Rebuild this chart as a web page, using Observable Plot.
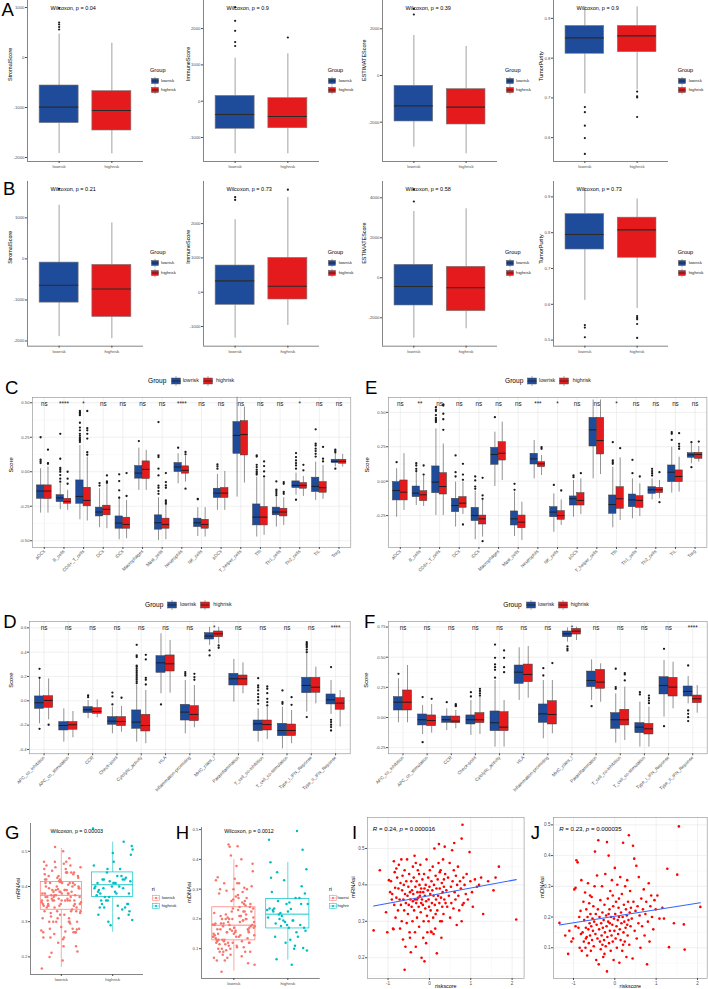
<!DOCTYPE html>
<html>
<head>
<meta charset="utf-8">
<script src="https://cdn.jsdelivr.net/npm/d3@7"></script>
<script src="https://cdn.jsdelivr.net/npm/@observablehq/plot@0.6"></script>
<style>
html,body{margin:0;padding:0;background:#fff;}
#fig{position:relative;width:708px;height:989px;overflow:hidden;background:#fff;font-family:"Liberation Sans",Arial,Helvetica,sans-serif;color:#000;}
#fig svg{display:block;max-width:none !important;}
</style>
</head>
<body>
<div id="fig"></div>
<script>
// ======================= DATA =======================
const groups = ["lowrisk", "highrisk"];

// ---- A / B : ESTIMATE scores (box statistics) ----
const estMeasures = ["StromalScore", "ImmuneScore", "ESTIMATEScore", "TumorPurity"];
const aPval = ["0.04", "0.9", "0.39", "0.9"];
const aLo  = [[-1920, -1927], [-1450, -1450], [-3071, -3357], [0.710, 0.720]];
const aQ1  = [[-1313, -1460], [-760, -744], [-1971, -2100], [0.811, 0.815]];
const aMed = [[-993, -1060], [-366, -420], [-1300, -1357], [0.851, 0.856]];
const aQ3  = [[-560, -673], [146, 83], [-443, -586], [0.881, 0.881]];
const aHi  = [[470, 287], [1184, 1305], [1714, 1243], [0.929, 0.929]];
const aOut = [
  [[560, 610, 660, 700, 990], []],
  [[1520, 1630, 1940, 2215, 2590], [1755]],
  [[2614, 2857], []],
  [[0.677, 0.664, 0.630, 0.599, 0.559], [0.716, 0.704, 0.701, 0.652]]
];
const aTicks = [[-2000, -1000, 0, 1000], [-1000, 0, 1000, 2000], [-2000, 0, 2000], [0.6, 0.7, 0.8, 0.9]];

const bPval = ["0.21", "0.73", "0.58", "0.73"];
const bLo  = [[-1895, -1944], [-1340, -971], [-3020, -2550], [0.611, 0.588]];
const bQ1  = [[-1066, -1415], [-369, -213], [-1385, -1670], [0.753, 0.730]];
const bMed = [[-643, -732], [330, 175], [-435, -500], [0.795, 0.808]];
const bQ3  = [[-90, -146], [777, 1000], [650, 550], [0.852, 0.842]];
const bHi  = [[1307, 878], [2110, 2760], [3315, 3450], [0.924, 0.894]];
const bOut = [
  [[1707], []],
  [[2690, 2770], [2990]],
  [[3815, 4420], []],
  [[0.542, 0.535, 0.508], [0.567, 0.562, 0.558, 0.545, 0.506]]
];
const bTicks = [[-2000, -1000, 0, 1000], [-1000, 0, 1000, 2000], [-2000, 0, 2000, 4000], [0.5, 0.6, 0.7, 0.8, 0.9]];

// ---- C / E : immune cells ----
const immCells = ["aDCs", "B_cells", "CD8+_T_cells", "DCs", "iDCs", "Macrophages", "Mast_cells", "Neutrophils", "NK_cells", "pDCs", "T_helper_cells", "Tfh", "Th1_cells", "Th2_cells", "TIL", "Treg"];
const cSig = ["ns", "****", "*", "ns", "ns", "ns", "ns", "****", "ns", "ns", "ns", "ns", "ns", "*", "ns", "ns"];
const cLo  = [[-0.30,-0.30],[-0.275,-0.28],[-0.348,-0.357],[-0.406,-0.413],[-0.493,-0.486],[-0.135,-0.135],[-0.498,-0.493],[-0.087,-0.075],[-0.469,-0.473],[-0.28,-0.28],[-0.184,-0.082],[-0.473,-0.461],[-0.401,-0.389],[-0.17,-0.179],[-0.208,-0.2],[0.034,0.034]];
const cQ1  = [[-0.196,-0.198],[-0.22,-0.232],[-0.232,-0.251],[-0.324,-0.316],[-0.413,-0.413],[-0.05,-0.053],[-0.42,-0.413],[-0.002,-0.014],[-0.401,-0.413],[-0.19,-0.19],[0.13,0.118],[-0.389,-0.389],[-0.316,-0.324],[-0.118,-0.123],[-0.147,-0.152],[0.063,0.058]];
const cMed = [[-0.14,-0.14],[-0.19,-0.215],[-0.179,-0.208],[-0.292,-0.273],[-0.372,-0.382],[-0.01,0.017],[-0.37,-0.382],[0.034,0.01],[-0.37,-0.382],[-0.155,-0.155],[0.263,0.27],[-0.329,-0.329],[-0.292,-0.292],[-0.099,-0.099],[-0.106,-0.116],[0.075,0.075]];
const cQ3  = [[-0.099,-0.099],[-0.17,-0.196],[-0.063,-0.116],[-0.26,-0.246],[-0.324,-0.333],[0.041,0.075],[-0.316,-0.34],[0.063,0.039],[-0.34,-0.348],[-0.123,-0.118],[0.36,0.367],[-0.237,-0.256],[-0.26,-0.268],[-0.07,-0.082],[-0.043,-0.075],[0.087,0.087]];
const cHi  = [[0.022,0.034],[-0.087,-0.135],[0.19,0.106],[-0.123,-0.087],[-0.184,-0.208],[0.171,0.155],[-0.188,-0.244],[0.13,0.111],[-0.26,-0.26],[-0.019,0.002],[0.54,0.469],[-0.039,-0.05],[-0.147,-0.188],[-0.01,-0.034],[0.07,0.046],[0.13,0.126]];
const cOut = [
  [[0.25,0.087,0.075,0.063],[0.16,0.063,0.058]],
  [[0.275,0.094,0.027,0.014,0.0,-0.024,-0.05,-0.072],[0.0,-0.05,-0.087]],
  [[0.44,0.43,0.42,0.41,0.355,0.32,0.30,0.275,0.26,0.245,0.235,0.225,0.215],[0.44,0.316,0.30,0.275,0.24,0.142,0.123]],
  [[-0.082,-0.1],[-0.027,-0.07,-0.08]],
  [[-0.019,-0.068,-0.135,-0.188],[-0.01,-0.176]],
  [[0.222],[]],
  [[0.36,0.118,0.106,0.022,-0.027,-0.1,-0.116,-0.14,-0.16],[-0.01,-0.075,-0.099,-0.116,-0.208,-0.22,-0.232]],
  [[0.174],[0.143,0.126,-0.123]],
  [[-0.196,-0.2],[]],
  [[0.053,0.039,0.022],[]],
  [[],[]],
  [[0.118,0.11,0.05,0.034,0.015,0.0,-0.01,-0.02],[0.075,0.041,0.002,-0.034]],
  [[-0.07,-0.13,-0.14,-0.155,-0.17],[-0.075,-0.087,-0.147,-0.16]],
  [[0.135,0.106,0.082,0.063,0.046,0.022,-0.203],[0.05,0.01]],
  [[0.307,0.203,0.19,0.167,0.15,0.13,0.11],[0.18,0.094,0.075]],
  [[0.16,0.15,0.14,0.022],[]]
];

const eSig = ["ns", "**", "ns", "ns", "ns", "ns", "ns", "***", "*", "ns", "ns", "*", "ns", "ns", "ns", "ns"];
const eLo  = [[-0.262,-0.213],[-0.177,-0.184],[-0.25,-0.25],[-0.334,-0.242],[-0.426,-0.407],[-0.039,0.005],[-0.402,-0.431],[0.017,0.041],[-0.371,-0.322],[-0.262,-0.242],[0.017,0.048],[-0.339,-0.286],[-0.274,-0.257],[-0.136,-0.128],[-0.087,-0.08],[0.126,0.138]];
const eQ1  = [[-0.14,-0.14],[-0.116,-0.145],[-0.087,-0.097],[-0.225,-0.194],[-0.29,-0.315],[0.119,0.15],[-0.322,-0.342],[0.121,0.102],[-0.262,-0.281],[-0.177,-0.177],[0.252,0.194],[-0.237,-0.201],[-0.189,-0.194],[-0.092,-0.087],[-0.007,-0.007],[0.17,0.162]];
const eMed = [[-0.068,-0.08],[-0.087,-0.099],[-0.007,-0.039],[-0.177,-0.16],[-0.25,-0.274],[0.194,0.203],[-0.274,-0.298],[0.162,0.126],[-0.225,-0.25],[-0.128,-0.14],[0.373,0.295],[-0.17,-0.128],[-0.136,-0.14],[-0.063,-0.063],[0.065,0.034],[0.191,0.194]];
const eQ3  = [[-0.007,0.005],[-0.039,-0.073],[0.107,0.058],[-0.128,-0.116],[-0.194,-0.25],[0.242,0.283],[-0.22,-0.25],[0.199,0.138],[-0.189,-0.218],[-0.111,-0.087],[0.46,0.46],[-0.104,-0.044],[-0.097,-0.109],[-0.044,-0.048],[0.114,0.078],[0.203,0.206]];
const eHi  = [[0.09,0.2],[0.065,0.034],[0.38,0.27],[-0.007,-0.007],[-0.073,-0.14],[0.356,0.429],[-0.08,-0.153],[0.296,0.187],[-0.092,-0.136],[0.005,0.017],[0.59,0.59],[0.102,0.17],[0.017,-0.019],[0.017,0.005],[0.247,0.174],[0.271,0.252]];
const eOut = [
  [[0.138],[]],
  [[0.13,0.114,0.09,0.073],[0.114,0.048]],
  [[0.538,0.52,0.51,0.48,0.46,0.45,0.44,0.43],[0.557,0.55,0.49,0.45,0.373]],
  [[0.187,0.065,0.034],[0.126,0.048,0.01,-0.315]],
  [[0.034,0.005,-0.039,-0.056],[0.024,-0.104,-0.128,-0.436]],
  [[0.465],[]],
  [[-0.019,-0.063],[]],
  [[],[0.247,0.235]],
  [[-0.027],[-0.068]],
  [[0.041,0.029],[0.058]],
  [[],[]],
  [[0.283,0.15,0.138,0.126],[0.24]],
  [[0.155,0.058],[0.034]],
  [[0.09,0.073,0.058,0.041],[0.065,-0.153]],
  [[0.356,0.344,0.3],[0.349,0.271,0.252,0.235]],
  [[0.283,0.102],[0.288]]
];

// ---- D / F : immune functions ----
const funcCells = ["APC_co_inhibition", "APC_co_stimulation", "CCR", "Check-point", "Cytolytic_activity", "HLA", "Inflammation-promoting", "MHC_class_I", "Parainflammation", "T_cell_co-inhibition", "T_cell_co-stimulation", "Type_I_IFN_Reponse", "Type_II_IFN_Reponse"];
const dSig = ["ns", "ns", "ns", "ns", "ns", "ns", "ns", "*", "ns", "ns", "ns", "ns", "****"];
const dLo  = [[-0.189,-0.156],[-0.34,-0.304],[-0.148,-0.14],[-0.271,-0.258],[-0.34,-0.353],[0.058,0.063],[-0.271,-0.222],[0.455,0.468],[-0.011,0.058],[-0.34,-0.318],[-0.395,-0.353],[-0.093,-0.025],[-0.112,-0.216]];
const dQ1  = [[-0.066,-0.058],[-0.244,-0.238],[-0.101,-0.107],[-0.197,-0.208],[-0.23,-0.252],[0.23,0.241],[-0.162,-0.167],[0.504,0.523],[0.126,0.126],[-0.249,-0.244],[-0.29,-0.29],[0.063,0.066],[-0.03,-0.074]];
const dMed = [[-0.016,0.003],[-0.203,-0.197],[-0.074,-0.088],[-0.167,-0.17],[-0.175,-0.203],[0.312,0.304],[-0.093,-0.112],[0.532,0.551],[0.181,0.181],[-0.189,-0.195],[-0.244,-0.244],[0.126,0.112],[0.008,-0.019]];
const dQ3  = [[0.036,0.038],[-0.175,-0.175],[-0.052,-0.06],[-0.134,-0.134],[-0.079,-0.115],[0.367,0.373],[-0.033,-0.044],[0.556,0.57],[0.222,0.208],[-0.162,-0.162],[-0.189,-0.195],[0.189,0.189],[0.052,0.022]];
const dHi  = [[0.18,0.18],[-0.066,-0.088],[0.003,0.008],[-0.052,-0.047],[0.13,0.085],[0.551,0.496],[0.167,0.126],[0.605,0.605],[0.34,0.312],[-0.066,-0.052],[-0.052,-0.079],[0.386,0.277],[0.167,0.085]];
const dOut = [
  [[0.263,0.189,-0.23],[-0.197]],
  [[],[]],
  [[0.044,0.03],[]],
  [[0.068,0.036,-0.03],[0.025]],
  [[0.46,0.373,0.36,0.29,0.28,0.265,0.25,0.235,0.22,0.205,0.19,0.175,0.16,0.145],[0.378,0.34,0.189,0.173,0.134]],
  [[-0.03],[]],
  [[0.236,0.222,0.208],[0.222,0.195,0.173]],
  [[0.414,0.373],[0.455,0.436]],
  [[],[]],
  [[0.186,0.126,0.11,0.085,0.055,0.03,0.003,-0.025],[0.118,0.099,0.063,0.016,-0.011,-0.038]],
  [[0.085,-0.011,-0.025],[0.03,-0.033]],
  [[0.482,0.47,0.46,0.45,0.44,0.42,0.4,-0.134],[]],
  [[0.277,-0.156,-0.175,-0.197,-0.216,-0.244],[]]
];

const fSig = ["ns", "ns", "ns", "ns", "ns", "ns", "ns", "*", "ns", "ns", "ns", "ns", "****"];
const fLo  = [[-0.044,-0.044],[-0.141,-0.13],[-0.108,-0.094],[-0.149,-0.141],[-0.246,-0.246],[0.141,0.16],[-0.177,-0.135],[0.625,0.638],[0.141,0.127],[-0.213,-0.191],[-0.246,-0.246],[0.003,0.072],[0.113,0.036]];
const fQ1  = [[0.058,0.058],[-0.066,-0.072],[-0.044,-0.047],[-0.058,-0.047],[-0.113,-0.113],[0.279,0.293],[-0.044,-0.058],[0.666,0.688],[0.252,0.238],[-0.094,-0.066],[-0.13,-0.141],[0.191,0.174],[0.174,0.119]];
const fMed = [[0.127,0.127],[-0.019,-0.025],[-0.019,-0.03],[-0.019,-0.019],[-0.044,-0.08],[0.376,0.357],[0.03,0.025],[0.694,0.716],[0.307,0.293],[-0.019,-0.019],[-0.08,-0.094],[0.265,0.252],[0.216,0.155]];
const fQ3  = [[0.169,0.224],[0.025,0.017],[0.008,0.008],[0.017,0.036],[0.05,0.044],[0.431,0.439],[0.108,0.135],[0.713,0.735],[0.381,0.395],[0.036,0.064],[-0.047,-0.053],[0.334,0.329],[0.257,0.182]];
const fHi  = [[0.321,0.431],[0.1,0.108],[0.072,0.058],[0.141,0.169],[0.307,0.141],[0.578,0.589],[0.307,0.307],[0.743,0.749],[0.478,0.445],[0.196,0.252],[0.127,0.086],[0.473,0.459],[0.34,0.265]];
const fOut = [
  [[0.362],[]],
  [[0.169,-0.205],[0.155]],
  [[0.127],[0.11,0.1,0.094]],
  [[0.21,0.174],[0.238,0.22,0.2,0.182]],
  [[0.605,0.495,0.44,0.417,0.395,0.33],[0.556,0.495,0.417,0.376]],
  [[],[]],
  [[0.409,0.348],[0.451]],
  [[0.589,0.569,0.556],[]],
  [[0.094],[]],
  [[0.404,0.252,0.238],[0.368,0.357,0.307]],
  [[0.21,0.191],[0.182,0.16,0.14,0.119]],
  [[0.569,-0.072],[]],
  [[0.431,0.058,0.03,0.003,-0.03],[]]
];

// ---- G / H box statistics ----
const gPval = "0.00003", hPval = "0.0012";
const gLo = [0.170, 0.270], gQ1 = [0.334, 0.370], gMed = [0.375, 0.405], gQ3 = [0.413, 0.440], gHi = [0.508, 0.526];
const hLo = [0.024, 0.062], hQ1 = [0.128, 0.168], hMed = [0.179, 0.216], hQ3 = [0.239, 0.267], hHi = [0.399, 0.390];
const riskCutoff = 0.3;

// ---- I : riskscore vs mRNAsi ----
const iR = "0.24", iP = "0.000016";
const iPoints = [
[-1.35,0.275],[-1.2,0.44],[-1.05,0.325],[-1.02,0.27],[-0.98,0.413],[-0.95,0.38],[-0.93,0.41],[-0.9,0.375],[-0.88,0.28],[-0.86,0.465],[-0.85,0.345],[-0.84,0.435],[-0.83,0.392],[-0.82,0.31],[-0.8,0.365],[-0.8,0.445],[-0.87,0.278],[-0.91,0.36],
[-0.78,0.42],[-0.76,0.33],[-0.75,0.39],[-0.74,0.455],[-0.72,0.36],[-0.71,0.28],[-0.7,0.405],[-0.69,0.345],[-0.68,0.47],[-0.67,0.3],[-0.66,0.385],[-0.65,0.425],[-0.64,0.25],[-0.63,0.36],[-0.62,0.4],[-0.61,0.33],[-0.6,0.167],[-0.6,0.44],[-0.59,0.375],[-0.58,0.23],[-0.57,0.35],[-0.56,0.41],[-0.55,0.295],[-0.54,0.47],[-0.53,0.37],[-0.52,0.32],[-0.51,0.395],[-0.5,0.345],[-0.49,0.43],[-0.48,0.27],[-0.47,0.38],[-0.46,0.36],[-0.45,0.215],[-0.44,0.41],[-0.43,0.34],[-0.42,0.385],[-0.41,0.3],[-0.4,0.355],[-0.4,0.45],[-0.47,0.255],
[-0.39,0.375],[-0.38,0.42],[-0.37,0.33],[-0.36,0.48],[-0.35,0.36],[-0.34,0.395],[-0.33,0.23],[-0.32,0.35],[-0.31,0.41],[-0.3,0.31],[-0.29,0.38],[-0.28,0.44],[-0.27,0.365],[-0.26,0.34],[-0.25,0.285],[-0.24,0.4],[-0.23,0.37],[-0.22,0.455],[-0.21,0.325],[-0.2,0.39],[-0.19,0.2],[-0.18,0.36],[-0.17,0.415],[-0.16,0.345],[-0.15,0.38],[-0.14,0.3],[-0.13,0.43],[-0.12,0.19],[-0.11,0.37],[-0.1,0.335],[-0.09,0.4],[-0.08,0.355],[-0.07,0.47],[-0.06,0.315],[-0.05,0.27],[-0.04,0.385],[-0.03,0.42],[-0.02,0.36],[-0.01,0.34],[0.0,0.395],[-0.15,0.255],[-0.25,0.43],[-0.35,0.27],[-0.08,0.24],[-0.2,0.35],[-0.3,0.36],[-0.12,0.39],[-0.02,0.3],[-0.22,0.38],[-0.33,0.46],
[0.01,0.44],[0.02,0.375],[0.03,0.33],[0.04,0.272],[0.05,0.41],[0.06,0.35],[0.07,0.385],[0.08,0.45],[0.09,0.31],[0.1,0.37],[0.11,0.4],[0.12,0.5],[0.13,0.345],[0.14,0.28],[0.15,0.425],[0.16,0.36],[0.17,0.39],[0.18,0.212],[0.19,0.33],[0.2,0.415],[0.21,0.37],[0.22,0.46],[0.23,0.512],[0.24,0.35],[0.25,0.39],[0.26,0.3],[0.27,0.44],[0.28,0.365],[0.29,0.255],[0.3,0.405],[0.31,0.34],[0.32,0.38],[0.33,0.47],[0.34,0.32],[0.35,0.395],[0.36,0.36],[0.37,0.505],[0.38,0.43],[0.39,0.35],[0.05,0.27],[0.15,0.32],[0.25,0.435],[0.3,0.3],[0.1,0.265],[0.35,0.415],
[0.41,0.385],[0.43,0.34],[0.45,0.42],[0.47,0.37],[0.49,0.46],[0.5,0.31],[0.52,0.395],[0.53,0.35],[0.55,0.495],[0.56,0.41],[0.58,0.335],[0.59,0.44],[0.6,0.515],[0.61,0.38],[0.63,0.36],[0.64,0.425],[0.66,0.29],[0.67,0.4],[0.69,0.45],[0.7,0.37],[0.72,0.33],[0.74,0.41],[0.76,0.39],[0.78,0.527],[0.78,0.3],[0.8,0.565],[0.8,0.345],[0.82,0.42],[0.83,0.35],[0.85,0.4],[0.88,0.375],[0.9,0.43],[0.93,0.36],[0.97,0.49],[0.99,0.41],
[1.03,0.38],[1.05,0.34],[1.1,0.415],[1.15,0.395],[1.2,0.4],[1.25,0.42],[1.3,0.32],[1.42,0.41],[1.55,0.385],[1.6,0.42],[1.68,0.45],[2.1,0.305]
];

// ---- J : riskscore vs mDNAsi ----
const jR = "0.23", jP = "0.000035";
const jPoints = [
[-1.34,0.181],[-1.2,0.14],[-1.13,0.08],[-1.1,0.155],[-1.05,0.12],[-1.01,0.13],[-0.98,0.29],[-0.95,0.295],[-0.93,0.385],[-0.9,0.378],[-0.88,0.165],[-0.86,0.2],[-0.85,0.1],[-0.83,0.22],[-0.82,0.145],[-0.81,0.32],[-0.8,0.09],[-0.95,0.17],
[-0.78,0.15],[-0.76,0.25],[-0.75,0.12],[-0.74,0.19],[-0.72,0.28],[-0.71,0.1],[-0.7,0.165],[-0.69,0.225],[-0.68,0.135],[-0.67,0.075],[-0.66,0.2],[-0.65,0.31],[-0.64,0.16],[-0.63,0.115],[-0.62,0.245],[-0.61,0.18],[-0.6,0.14],[-0.59,0.21],[-0.58,0.09],[-0.57,0.17],[-0.56,0.265],[-0.55,0.125],[-0.54,0.195],[-0.53,0.155],[-0.52,0.235],[-0.51,0.105],[-0.5,0.185],[-0.49,0.3],[-0.48,0.413],[-0.47,0.145],[-0.46,0.21],[-0.45,0.06],[-0.44,0.175],[-0.43,0.335],[-0.42,0.13],[-0.41,0.225],[-0.4,0.45],[-0.39,0.046],[-0.6,0.27],[-0.7,0.13],
[-0.38,0.16],[-0.37,0.2],[-0.36,0.12],[-0.35,0.255],[-0.34,0.095],[-0.33,0.18],[-0.32,0.14],[-0.31,0.3],[-0.3,0.215],[-0.29,0.165],[-0.28,0.07],[-0.27,0.19],[-0.26,0.125],[-0.25,0.24],[-0.24,0.15],[-0.23,0.34],[-0.22,0.105],[-0.21,0.205],[-0.2,0.17],[-0.19,0.444],[-0.19,0.023],[-0.18,0.135],[-0.17,0.26],[-0.16,0.185],[-0.15,0.4],[-0.14,0.115],[-0.13,0.225],[-0.12,0.155],[-0.11,0.285],[-0.1,0.09],[-0.09,0.2],[-0.08,0.14],[-0.07,0.32],[-0.06,0.175],[-0.05,0.12],[-0.04,0.235],[-0.03,0.06],[-0.02,0.195],[-0.01,0.155],[0.0,0.36],[-0.3,0.11],[-0.15,0.21],[-0.05,0.27],[-0.25,0.08],[-0.12,0.18],
[0.01,0.21],[0.02,0.13],[0.03,0.25],[0.04,0.17],[0.05,0.1],[0.06,0.305],[0.07,0.19],[0.08,0.145],[0.09,0.23],[0.1,0.2],[0.11,0.051],[0.12,0.16],[0.13,0.33],[0.14,0.125],[0.15,0.215],[0.16,0.18],[0.17,0.275],[0.18,0.09],[0.19,0.2],[0.2,0.442],[0.21,0.15],[0.22,0.24],[0.23,0.185],[0.24,0.12],[0.25,0.3],[0.26,0.165],[0.27,0.225],[0.28,0.07],[0.29,0.205],[0.3,0.32],[0.31,0.14],[0.32,0.25],[0.33,0.19],[0.34,0.466],[0.35,0.11],[0.36,0.215],[0.37,0.285],[0.38,0.17],[0.39,0.23],[0.1,0.26],[0.2,0.11],[0.3,0.175],
[0.41,0.195],[0.43,0.065],[0.44,0.432],[0.45,0.25],[0.47,0.39],[0.48,0.155],[0.5,0.22],[0.52,0.367],[0.53,0.13],[0.55,0.235],[0.57,0.18],[0.58,0.33],[0.6,0.205],[0.62,0.1],[0.64,0.26],[0.66,0.17],[0.68,0.225],[0.7,0.29],[0.72,0.14],[0.74,0.21],[0.76,0.25],[0.78,0.046],[0.8,0.185],[0.82,0.31],[0.84,0.12],[0.86,0.235],[0.88,0.27],[0.9,0.2],[0.93,0.16],[0.96,0.255],[0.99,0.225],
[1.03,0.27],[1.08,0.195],[1.15,0.23],[1.19,0.195],[1.27,0.357],[1.31,0.102],[1.43,0.18],[1.51,0.338],[1.55,0.495],[1.67,0.176],[1.69,0.094],[2.07,0.233]
];

// ======================= RENDER =======================
const fig = document.getElementById("fig");
const FONT = '"Liberation Sans", Arial, Helvetica, sans-serif';
const BLUE = "#1F4B9B", RED = "#E41A1C", SALMON = "#F8766D", TEAL = "#00BFC4";
const boxFill = [BLUE, RED], stripCol = [SALMON, TEAL];
const AX = "#4d4d4d";

function put(node, left, top) {
  const d = document.createElement("div");
  const w = node.getAttribute && node.getAttribute("width");
  d.style.cssText = `position:absolute;left:${left}px;top:${top}px;` + (w ? `width:${w}px;` : "");
  d.appendChild(node);
  fig.appendChild(d);
  return d;
}
function txt(html, x, y, size, extra = "") {
  const d = document.createElement("div");
  d.style.cssText = `position:absolute;left:${x}px;top:${y}px;font-size:${size}px;line-height:1;white-space:nowrap;transform:translateY(-50%);${extra}`;
  d.innerHTML = html;
  fig.appendChild(d);
  return d;
}
function plotAt(f, pad, opts, bg) {
  const svg = Plot.plot({
    width: f.r - f.l + pad[0] + pad[1],
    height: f.b - f.t + pad[2] + pad[3],
    marginLeft: pad[0], marginRight: pad[1], marginTop: pad[2], marginBottom: pad[3],
    style: {background: bg || "transparent", fontFamily: FONT, color: AX, overflow: "visible"},
    ...opts
  });
  put(svg, f.l - pad[0], f.t - pad[2]);
  return svg;
}
function boxKey(fill, w, h) {
  const W = w + 1, H = h + 4, cx = W / 2;
  return `<svg width="${W}" height="${H}" style="display:block"><line x1="${cx}" y1="0" x2="${cx}" y2="${H}" stroke="#777" stroke-width="0.6"/><rect x="0.5" y="2" width="${w}" height="${h}" fill="${fill}" stroke="#555" stroke-width="0.5"/><line x1="0.5" y1="${2 + h / 2}" x2="${w + 0.5}" y2="${2 + h / 2}" stroke="#222" stroke-width="0.8"/></svg>`;
}
function stripKey(col) {
  return `<svg width="8" height="7" style="display:block"><line x1="4" y1="0" x2="4" y2="7" stroke="${col}" stroke-width="0.5"/><rect x="0.5" y="1.2" width="7" height="4.6" fill="#fff" stroke="${col}" stroke-width="0.5"/><line x1="0.5" y1="3.5" x2="7.5" y2="3.5" stroke="${col}" stroke-width="0.5"/><circle cx="4" cy="3.5" r="1.1" fill="${col}"/></svg>`;
}
const fmtHyphen = f => v => d3.format(f)(v).replace("\u2212", "-");

// ---------- A & B ----------
const estFrames = [{l: 27, r: 143}, {l: 203, r: 319}, {l: 381.7, r: 496.7}, {l: 553.3, r: 668.3}];
const estLegendX = [150, 327.7, 505, 677.7];
const estTitleOff = [17, 15.5, 18, 12.6];
const aDomain = [[-2080, 1140], [-1661, 2774], [-3686, 3214], [0.540, 0.945]];
const bDomain = [[-2127, 1885], [-1574, 3227], [-3420, 4815], [0.483, 0.943]];

function estPanel(k, t, b, dom, ticks, lo, q1, med, q3, hi, out, pval, legY) {
  const fr = estFrames[k];
  const f = {l: fr.l, r: fr.r, t, b};
  const rows = groups.map((g, j) => ({j, pos: j + 1, lo: lo[k][j], q1: q1[k][j], med: med[k][j], q3: q3[k][j], hi: hi[k][j]}));
  const outs = groups.flatMap((g, j) => out[k][j].map(v => ({pos: j + 1, v})));
  const hw = 0.37;
  plotAt(f, [28, 4, 2, 12], {
    x: {type: "linear", domain: [0.4, 2.6]},
    y: {type: "linear", domain: dom[k]},
    marks: [
      Plot.ruleX(rows, {x: "pos", y1: "lo", y2: "q1", stroke: "#8a8a8a", strokeWidth: 0.8}),
      Plot.ruleX(rows, {x: "pos", y1: "q3", y2: "hi", stroke: "#8a8a8a", strokeWidth: 0.8}),
      Plot.rect(rows, {x1: d => d.pos - hw, x2: d => d.pos + hw, y1: "q1", y2: "q3", fill: d => boxFill[d.j], stroke: "#7a7a7a", strokeWidth: 0.6}),
      Plot.ruleY(rows, {y: "med", x1: d => d.pos - hw, x2: d => d.pos + hw, stroke: "#2b2b2b", strokeWidth: 1.1}),
      Plot.dot(outs, {x: "pos", y: "v", r: 1.1, fill: "#1a1a1a"}),
      Plot.ruleX([0.4], {stroke: "#333", strokeWidth: 0.6}),
      Plot.ruleY([dom[k][0]], {stroke: "#333", strokeWidth: 0.6}),
      Plot.axisY({ticks: ticks[k], tickSize: 2, tickPadding: 1, fontSize: 4.3, tickFormat: v => String(v), label: null}),
      Plot.axisX({ticks: [1, 2], tickSize: 2, tickPadding: 1.5, fontSize: 4.3, tickFormat: v => groups[v - 1], label: null}),
      Plot.text([`Wilcoxon, p = ${pval[k]}`], {text: d => d, frameAnchor: "top-left", dx: 23, dy: 6, textAnchor: "start", fontSize: 5.5, fill: "#000"}),
      Plot.text([estMeasures[k]], {text: d => d, frameAnchor: "left", dx: -estTitleOff[k], rotate: -90, fontSize: 5.5, fill: "#000"})
    ]
  });
  const lx = estLegendX[k];
  txt("Group", lx, legY, 5.6);
  groups.forEach((g, j) => {
    txt(boxKey(boxFill[j], 7, 5), lx + 0.5, legY + 10 + j * 9.2, 5);
    txt(g, lx + 11, legY + 10 + j * 9.2, 4.3, "color:#1a1a1a");
  });
}
for (let k = 0; k < 4; k++) {
  estPanel(k, 0, 161, aDomain, aTicks, aLo, aQ1, aMed, aQ3, aHi, aOut, aPval, 71);
  estPanel(k, 181, 345.7, bDomain, bTicks, bLo, bQ1, bMed, bQ3, bHi, bOut, bPval, 253.3);
}

// ---------- C, D, E, F ----------
function immPanel(cfg) {
  const {cells, sig, lo, q1, med, q3, hi, out, f, dom, ticks, minor, fmt, titleOff} = cfg;
  const off = 0.1875;
  const rows = [], outs = [];
  cells.forEach((c, i) => groups.forEach((g, j) => {
    const pos = i + 1 + (j === 0 ? -off : off);
    rows.push({j, pos, lo: lo[i][j], q1: q1[i][j], med: med[i][j], q3: q3[i][j], hi: hi[i][j]});
    out[i][j].forEach(v => outs.push({pos, v}));
  }));
  const idx = cells.map((c, i) => i + 1);
  plotAt(f, [30, 2, 4, 52], {
    x: {type: "linear", domain: [0.4, cells.length + 0.6]},
    y: {type: "linear", domain: dom},
    marks: [
      Plot.ruleY(minor, {stroke: "#f2f2f2", strokeWidth: 0.4}),
      Plot.ruleY(ticks, {stroke: "#e6e6e6", strokeWidth: 0.6}),
      Plot.ruleX(idx, {stroke: "#e6e6e6", strokeWidth: 0.6}),
      Plot.ruleX(rows, {x: "pos", y1: "lo", y2: "q1", stroke: "#4a4a4a", strokeWidth: 0.6}),
      Plot.ruleX(rows, {x: "pos", y1: "q3", y2: "hi", stroke: "#4a4a4a", strokeWidth: 0.6}),
      Plot.rect(rows, {x1: d => d.pos - off, x2: d => d.pos + off, y1: "q1", y2: "q3", fill: d => boxFill[d.j], stroke: "#3a3a3a", strokeWidth: 0.5}),
      Plot.ruleY(rows, {y: "med", x1: d => d.pos - off, x2: d => d.pos + off, stroke: "#1a1a1a", strokeWidth: 0.9}),
      Plot.dot(outs, {x: "pos", y: "v", r: 1.15, fill: "#1a1a1a"}),
      Plot.frame({stroke: "#8c8c8c", strokeWidth: 0.6}),
      Plot.text(sig, {x: (d, i) => i + 1, frameAnchor: "top", dy: 4, text: d => d, fontSize: 6.3, fill: "#1a1a1a"}),
      Plot.axisY({ticks, tickSize: 2, tickPadding: 1, fontSize: 4.2, tickFormat: fmtHyphen(fmt), label: null}),
      Plot.axisX({ticks: idx, tickSize: 2, tickPadding: 1, fontSize: 4.6, tickRotate: -45, tickFormat: v => cells[v - 1], label: null}),
      Plot.text(["Score"], {text: d => d, frameAnchor: "left", dx: -titleOff, rotate: -90, fontSize: 5.8, fill: "#000"})
    ]
  });
}
function hLegend(xs, y) {
  txt("Group", xs[0], y, 6.6);
  txt(boxKey(BLUE, 9, 6), xs[1], y, 5);
  txt("lowrisk", xs[2], y, 5.3, "color:#1a1a1a");
  txt(boxKey(RED, 9, 6), xs[3], y, 5);
  txt("highrisk", xs[4], y, 5.3, "color:#1a1a1a");
}
immPanel({cells: immCells, sig: cSig, lo: cLo, q1: cQ1, med: cMed, q3: cQ3, hi: cHi, out: cOut,
  f: {l: 31.7, r: 350, t: 397, b: 547}, dom: [-0.549, 0.538], ticks: [-0.5, -0.25, 0, 0.25, 0.5], minor: [-0.375, -0.125, 0.125, 0.375], fmt: ".2f", titleOff: 21});
immPanel({cells: immCells, sig: eSig, lo: eLo, q1: eQ1, med: eMed, q3: eQ3, hi: eHi, out: eOut,
  f: {l: 388.3, r: 706.7, t: 397, b: 547}, dom: [-0.482, 0.608], ticks: [-0.25, 0, 0.25, 0.5], minor: [-0.375, -0.125, 0.125, 0.375], fmt: ".2f", titleOff: 21.6});
immPanel({cells: funcCells, sig: dSig, lo: dLo, q1: dQ1, med: dMed, q3: dQ3, hi: dHi, out: dOut,
  f: {l: 29.3, r: 350, t: 621, b: 753.3}, dom: [-0.4355, 0.652], ticks: [-0.4, -0.2, 0, 0.2, 0.4, 0.6], minor: [-0.3, -0.1, 0.1, 0.3, 0.5], fmt: ".1f", titleOff: 18.3});
immPanel({cells: funcCells, sig: fSig, lo: fLo, q1: fQ1, med: fMed, q3: fQ3, hi: fHi, out: fOut,
  f: {l: 388.3, r: 707, t: 621, b: 753.3}, dom: [-0.301, 0.796], ticks: [-0.25, 0, 0.25, 0.5, 0.75], minor: [-0.125, 0.125, 0.375, 0.625], fmt: ".2f", titleOff: 22.6});
hLegend([148, 170.5, 182.7, 203, 216], 381);
hLegend([505, 526.5, 539, 559, 572.7], 381);
hLegend([145, 166.5, 180, 199.8, 213.3], 605);
hLegend([503.3, 525.5, 538, 557.8, 570.7], 605);

// ---------- G & H ----------
function stripPanel(cfg) {
  const {pts, lo, q1, med, q3, hi, f, dom, ticks, ytitle, titleOff, pval, pdx, pdy, legX, keyX, labX} = cfg;
  const rows = groups.map((g, j) => ({j, pos: j + 1, lo: lo[j], q1: q1[j], med: med[j], q3: q3[j], hi: hi[j]}));
  const hw = 0.4;
  const jit = i => (((i * 0.6180339887) % 1) - 0.5) * 0.78;
  plotAt(f, [30, 4, 4, 12], {
    x: {type: "linear", domain: [0.4, 2.6]},
    y: {type: "linear", domain: dom},
    marks: [
      Plot.ruleX(rows, {x: "pos", y1: "lo", y2: "q1", stroke: d => stripCol[d.j], strokeWidth: 0.6}),
      Plot.ruleX(rows, {x: "pos", y1: "q3", y2: "hi", stroke: d => stripCol[d.j], strokeWidth: 0.6}),
      Plot.rect(rows, {x1: d => d.pos - hw, x2: d => d.pos + hw, y1: "q1", y2: "q3", fill: "none", stroke: d => stripCol[d.j], strokeWidth: 0.7}),
      Plot.ruleY(rows, {y: "med", x1: d => d.pos - hw, x2: d => d.pos + hw, stroke: d => stripCol[d.j], strokeWidth: 0.9}),
      Plot.dot(pts, {x: d => d.j + 1 + jit(d.i), y: "v", r: 1.25, fill: d => stripCol[d.j]}),
      Plot.ruleX([0.4], {stroke: "#333", strokeWidth: 0.6}),
      Plot.ruleY([dom[0]], {stroke: "#333", strokeWidth: 0.6}),
      Plot.axisY({ticks, tickSize: 2, tickPadding: 1, fontSize: 4.3, tickFormat: v => String(v), label: null}),
      Plot.axisX({ticks: [1, 2], tickSize: 2, tickPadding: 1.5, fontSize: 4.3, tickFormat: v => groups[v - 1], label: null}),
      Plot.text([`Wilcoxon, p = ${pval}`], {text: d => d, frameAnchor: "top-left", dx: pdx, dy: pdy, textAnchor: "start", fontSize: 5.3, fill: "#000"}),
      Plot.text([ytitle], {text: d => d, frameAnchor: "left", dx: -titleOff, rotate: -90, fontSize: 5.8, fill: "#000"})
    ]
  });
  txt("ri", legX, 890, 5.5);
  groups.forEach((g, j) => {
    txt(stripKey(stripCol[j]), keyX, 898.2 + j * 8.2, 5);
    txt(g, labX, 898.2 + j * 8.2, 4.3, "color:#1a1a1a");
  });
}
const gPts = iPoints.map(([r, v], i) => ({i, v, j: r > riskCutoff ? 1 : 0}));
const hPts = jPoints.map(([r, v], i) => ({i, v, j: r > riskCutoff ? 1 : 0}));
stripPanel({pts: gPts, lo: gLo, q1: gQ1, med: gMed, q3: gQ3, hi: gHi, f: {l: 30, r: 143, t: 823, b: 974},
  dom: [0.150, 0.579], ticks: [0.2, 0.3, 0.4, 0.5], ytitle: "mRNAsi", titleOff: 12, pval: gPval, pdx: 20, pdy: 5.3,
  legX: 151.7, keyX: 151.7, labX: 161.7});
stripPanel({pts: hPts, lo: hLo, q1: hQ1, med: hMed, q3: hQ3, hi: hHi, f: {l: 201.3, r: 320, t: 826.7, b: 977.7},
  dom: [0, 0.507], ticks: [0.1, 0.2, 0.3, 0.4, 0.5], ytitle: "mDNAsi", titleOff: 12.3, pval: hPval, pdx: 22.7, pdy: 1.8,
  legX: 329, keyX: 329.3, labX: 337.5});

// ---------- I & J ----------
function scatterPanel(cfg) {
  const {pts, f, pad, xdom, ydom, xticks, xminor, yticks, yminor, ytitle, titleOff, rval, pval, bg} = cfg;
  const svg = plotAt(f, pad, {
    x: {type: "linear", domain: xdom},
    y: {type: "linear", domain: ydom},
    marks: [
      Plot.ruleX(xminor, {stroke: "#f3f3f3", strokeWidth: 0.4}),
      Plot.ruleY(yminor, {stroke: "#f3f3f3", strokeWidth: 0.4}),
      Plot.ruleX(xticks, {stroke: "#e6e6e6", strokeWidth: 0.6}),
      Plot.ruleY(yticks, {stroke: "#e6e6e6", strokeWidth: 0.6}),
      Plot.dot(pts, {x: d => d[0], y: d => d[1], r: 1.3, fill: "#FF0000"}),
      Plot.linearRegressionY(pts, {x: d => d[0], y: d => d[1], stroke: "#3366FF", strokeWidth: 1.1, ci: 0}),
      Plot.frame({stroke: "#8c8c8c", strokeWidth: 0.6}),
      Plot.axisX({ticks: xticks, tickSize: 2, tickPadding: 1, fontSize: 4.6, tickFormat: v => String(v), label: null}),
      Plot.axisY({ticks: yticks, tickSize: 2, tickPadding: 1, fontSize: 4.6, tickFormat: v => String(v), label: null}),
      Plot.text(["riskscore"], {text: d => d, frameAnchor: "bottom", dy: 9.5, fontSize: 5.4, fill: "#000"}),
      Plot.text([ytitle], {text: d => d, frameAnchor: "left", dx: -titleOff, rotate: -90, fontSize: 5.9, fill: "#000"})
    ]
  }, bg);
  const minX = d3.min(pts, d => d[0]);
  const lx = f.l - pad[0] + svg.scale("x").apply(minX);
  txt(`<i>R</i> = ${rval}, <i>p</i> = ${pval}`, lx, f.t + 12.3, 6.1);
}
scatterPanel({pts: iPoints, f: {l: 366.7, r: 523.3, t: 816.7, b: 977.7}, pad: [18, 6, 4, 12], bg: "#fff",
  xdom: [-1.498, 2.29], ydom: [0.143, 0.585], xticks: [-1, 0, 1, 2], xminor: [-0.5, 0.5, 1.5],
  yticks: [0.2, 0.3, 0.4, 0.5], yminor: [0.15, 0.25, 0.35, 0.45, 0.55], ytitle: "mRNAsi", titleOff: 14.7, rval: iR, pval: iP});
scatterPanel({pts: jPoints, f: {l: 553.3, r: 707, t: 816.7, b: 977.7}, pad: [24, 1, 4, 12],
  xdom: [-1.484, 2.235], ydom: [0, 0.524], xticks: [-1, 0, 1, 2], xminor: [-0.5, 0.5, 1.5],
  yticks: [0.1, 0.2, 0.3, 0.4, 0.5], yminor: [0.05, 0.15, 0.25, 0.35, 0.45], ytitle: "mDNAsi", titleOff: 11.3, rval: jR, pval: jP});

// ---------- panel letters ----------
[["A", 1.5, 10.2], ["B", 3, 189.3], ["C", 5, 387.5], ["E", 365, 387.5], ["D", 3.3, 621.7], ["F", 364, 621.7],
 ["G", 5, 832.5], ["H", 175.7, 832.5], ["I", 352, 832.5], ["J", 530.7, 832.5]]
  .forEach(([s, x, y]) => txt(s, x, y, 18.5));
</script>
</body>
</html>
